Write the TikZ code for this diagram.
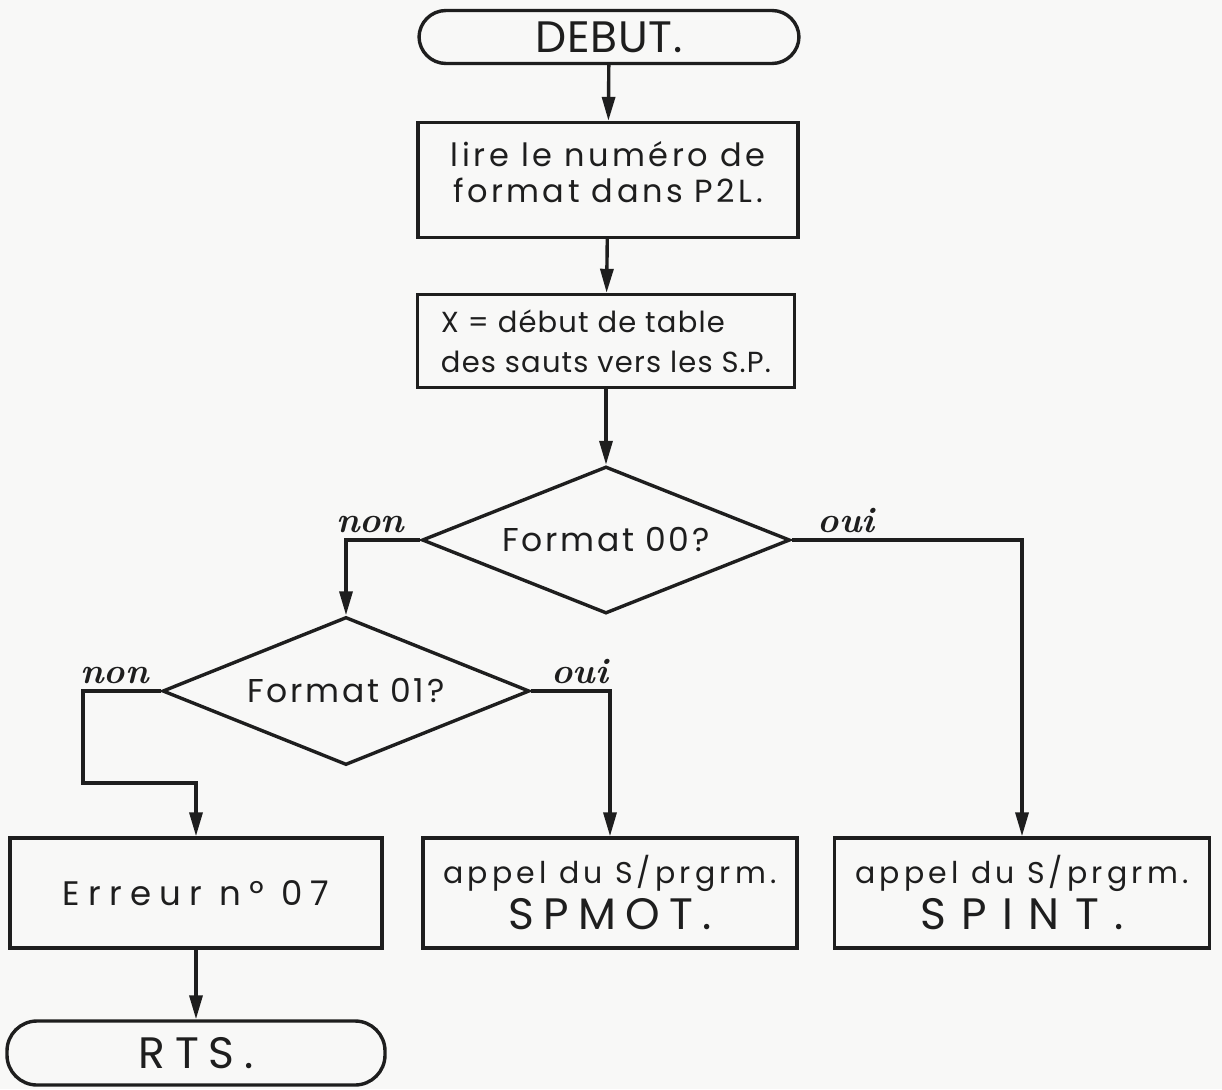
\documentclass[tikz,border=0pt]{standalone}
\usepackage{fontspec}
\newfontfamily\hand{Poppins}
\newcommand\lsp[1]{\addfontfeatures{LetterSpace=#1}}
\usetikzlibrary{arrows.meta,shapes.geometric}
\definecolor{ink}{HTML}{1E1E1E}
\definecolor{paper}{HTML}{F8F8F7}
\tikzset{
  every node/.style={text=ink},
  boxnode/.style={draw=ink, line width=3.4pt, rectangle, inner sep=0pt, align=center},
  termnode/.style={boxnode, rounded corners=27pt},
  decnode/.style={draw=ink, line width=3.4pt, diamond, aspect=2.5, inner sep=0pt, font=\hand\fontsize{33}{38}\selectfont\lsp{8}},
  arr/.style={draw=ink, line width=3.4pt, -{Triangle[length=24pt,width=13pt]}},
  lbl/.style={font=\bfseries\itshape\fontsize{36}{40}\selectfont, inner sep=2pt}
}
\begin{document}
\begin{tikzpicture}[x=1pt,y=-1pt]
\fill[paper] (0,0) rectangle (1222,1089);
\useasboundingbox (0,0) rectangle (1222,1089);

\node[termnode, minimum width=380pt, minimum height=53pt, font=\hand\fontsize{44}{48}\selectfont\lsp{2}] (debut) at (609,37) {DEBUT.};
\node[boxnode, minimum width=380pt, minimum height=115pt, font=\hand\fontsize{32}{36}\selectfont\lsp{11}] (box1) at (608,180) {lire le numéro de\\format dans P2L.\\[-20pt]\mbox{}};
\node[boxnode, minimum width=377pt, minimum height=93pt, align=left, font=\hand\fontsize{29}{40}\selectfont\lsp{4}] (box2) at (606,341) {X = début de table\\des sauts vers les S.P.};
\node[decnode, minimum width=368pt, minimum height=147pt] (d1) at (606,540) {Format 00?};
\node[decnode, minimum width=367pt, minimum height=148pt] (d2) at (346,691) {Format 01?};
\node[boxnode, minimum width=372pt, minimum height=110pt, font=\hand\fontsize{34}{38}\selectfont\lsp{24}] (err) at (196,893) {Erreur nº 07};
\node[boxnode, minimum width=374pt, minimum height=110pt, font=\hand\fontsize{30}{40}\selectfont\lsp{14}] (spmot) at (610,893) {appel du S/prgrm.\\[6pt]{\fontsize{44}{48}\selectfont\lsp{21}SPMOT.}};
\node[boxnode, minimum width=375pt, minimum height=110pt, font=\hand\fontsize{30}{40}\selectfont\lsp{14}] (spint) at (1022,893) {appel du S/prgrm.\\[6pt]{\fontsize{44}{48}\selectfont\lsp{35}SPINT.}};
\node[termnode, minimum width=378pt, minimum height=64pt, rounded corners=30pt, font=\hand\fontsize{44}{48}\selectfont\lsp{22}] (rts) at (196,1053) {RTS.};

\coordinate (bend) at (83,783);

\draw[arr] (debut) -- (box1);
\draw[arr] (box1) -- (box2);
\draw[arr] (box2) -- (d1);
\draw[arr] (d1.west) -| (d2.north);
\draw[arr] (d1.east) -| (spint.north);
\draw[arr] (d2.east) -| (spmot.north);
\draw[arr] (d2.west) -| (bend) -| (err.north);
\draw[arr] (err) -- (rts);

\node[lbl, anchor=south east] (n1) at ([xshift=-14pt,yshift=5pt]d1.west) {non};
\node[lbl, anchor=south west] (o1) at ([xshift=24pt,yshift=5pt]d1.east) {oui};
\node[lbl, anchor=south east] (n2) at ([xshift=-10pt,yshift=5pt]d2.west) {non};
\node[lbl, anchor=south west] (o2) at ([xshift=18pt,yshift=5pt]d2.east) {oui};
\end{tikzpicture}
\end{document}
